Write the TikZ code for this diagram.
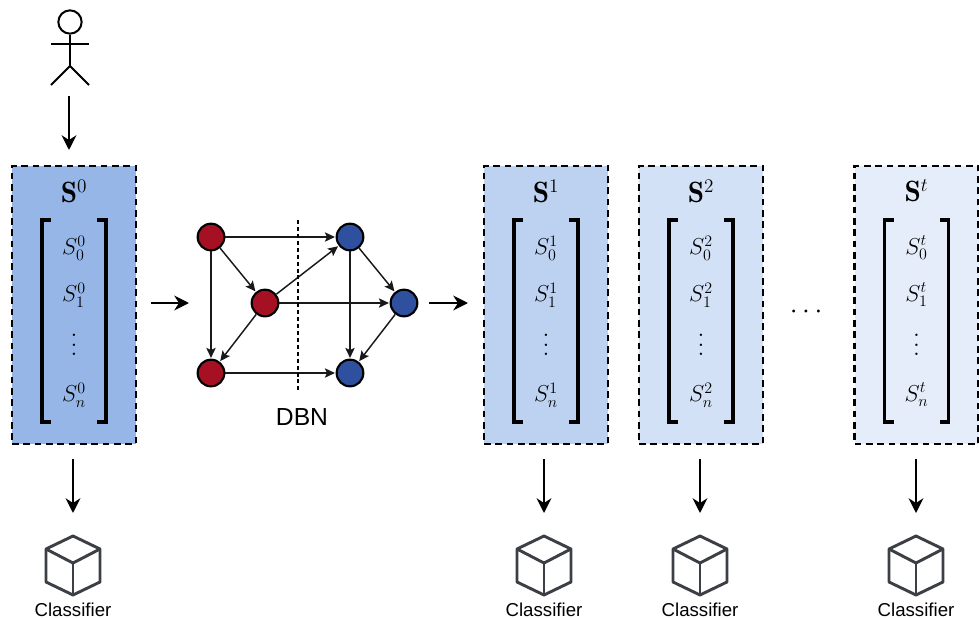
\documentclass[tikz,border=0pt]{standalone}
\usepackage{amsmath}
\usepackage{amssymb}
\usepackage{fontspec}
\newfontfamily\labelfont{Liberation Sans}
\usetikzlibrary{arrows.meta,calc}
\tikzset {>=Stealth}
\definecolor{stateA}{HTML}{95B6E7}
\definecolor{stateB}{HTML}{BDD1F1}
\definecolor{stateC}{HTML}{D3E1F6}
\definecolor{stateD}{HTML}{E6EDFA}
\definecolor{dbnred}{HTML}{A51122}
\definecolor{dbnblue}{HTML}{2F4F9F}
\definecolor{cubegray}{HTML}{3C3F45}
\tikzset{
  statebox/.style={draw=black,line width=1.6pt,dash pattern=on 5pt off 3.5pt,minimum width=93pt,minimum height=208.5pt,inner sep=0pt},
  entry/.style={inner sep=0pt,font=\fontsize{17.5}{19}\selectfont},
  title/.style={inner sep=0pt,font=\fontsize{22}{24}\selectfont},
  bracket/.style={line width=2.8pt,line cap=butt,line join=miter},
  flow/.style={-{Stealth[length=11pt,width=11pt,inset=3.5pt]},line width=2pt},
  link/.style={-{Stealth[length=7.5pt,width=7pt,inset=1.5pt]},line width=1.1pt,black!90,shorten >=.5pt},
  redvar/.style={circle,draw=black,line width=1.6pt,fill=dbnred,minimum size=20pt,inner sep=0pt},
  bluevar/.style={circle,draw=black,line width=1.6pt,fill=dbnblue,minimum size=20pt,inner sep=0pt},
  cube/.style={cubegray,line width=2.2pt,line join=round},
  caption/.style={inner sep=0pt,font=\labelfont\fontsize{14}{15}\selectfont}
}

\begin{document}
\begin{tikzpicture}[x=.75pt,y=-.75pt]
\useasboundingbox (0,0) rectangle (979,618);
% person
\node[circle,draw,line width=1.5pt,minimum size=17.5pt,inner sep=0pt] (head) at (70,22) {};
\coordinate (hip) at (70,66);
\draw[line width=1.5pt] (head) -- (hip);
\draw[line width=1.5pt] (51,44) -- (89,44);
\draw[line width=1.5pt] (51,85) -- (hip) -- (89,85);
\coordinate (userA) at (69,96);
\coordinate (userB) at (69,150);
\draw[flow] (userA) -- (userB);
% states and classifiers
\foreach \i/\x/\a/\t/\col in {0/74/73/0/stateA,1/546/544/1/stateB,2/701/700/2/stateC,3/916.5/916/t/stateD} {
  \node[statebox,fill=\col] (box\i) at (\x,305) {};
  \node[title] (name\i) at (\x,191) {$\mathbf{S}^{\t}$};
  \node[entry] (first\i) at (\x,248) {$S_0^{\t}$};
  \node[entry] (second\i) at (\x,295) {$S_1^{\t}$};
  \node[inner sep=0pt] (dots\i) at (\x,338) {\scalebox{1.7}{$\vdots$}};
  \node[entry] (last\i) at (\x,395) {$S_n^{\t}$};
  \draw[bracket] ($(\x,220)+(-23,0)$) -- ($(\x,220)+(-32,0)$) -- ($(\x,422)+(-32,0)$) -- ($(\x,422)+(-23,0)$);
  \draw[bracket] ($(\x,220)+(23,0)$) -- ($(\x,220)+(32,0)$) -- ($(\x,422)+(32,0)$) -- ($(\x,422)+(23,0)$);
  \coordinate (outA\i) at (\a,459);
  \coordinate (outB\i) at (\a,513);
  \draw[flow] (outA\i) -- (outB\i);
  \begin{scope}[xshift=\a*.75pt]
    \draw[cube] (0,536) -- (27,549) -- (27,582) -- (0,595) -- (-27,582) -- (-27,549) -- cycle;
    \draw[cube] (-27,549) -- (0,563) -- (27,549);
    \draw[cube] (0,563) -- (0,595);
  \end{scope}
  \node[caption] (clf\i) at (\a,609.5) {Classifier};
}
% DBN
\node[redvar] (r1) at (211,237) {};
\node[redvar] (r2) at (265,303) {};
\node[redvar] (r3) at (211,373) {};
\node[bluevar] (b1) at (350,237) {};
\node[bluevar] (b2) at (404,303) {};
\node[bluevar] (b3) at (350,373) {};
\draw[link] (r1) -- (b1);
\draw[link] (r1) -- (r2);
\draw[link] (r1) -- (r3);
\draw[link] (r2) -- (r3);
\draw[link] (r2) -- (b1);
\draw[link] (r2) -- (b2);
\draw[link] (r3) -- (b3);
\draw[link] (b1) -- (b2);
\draw[link] (b1) -- (b3);
\draw[link] (b2) -- (b3);
\coordinate (cutA) at (298,220);
\coordinate (cutB) at (298,390);
\draw[line width=.9pt,dash pattern=on 3pt off 2.2pt] (cutA) -- (cutB);
\node[inner sep=0pt,font=\labelfont\fontsize{18.5}{20}\selectfont] (dbn) at (302,417) {DBN};
\coordinate (inA) at (151,303);
\coordinate (inB) at (189,303);
\draw[flow] (inA) -- (inB);
\coordinate (outA) at (429,303);
\coordinate (outB) at (468,303);
\draw[flow] (outA) -- (outB);
\node[inner sep=0pt] (gap) at (808.5,312) {\scalebox{2.1}{$\cdots$}};
\end{tikzpicture}
\end{document}
